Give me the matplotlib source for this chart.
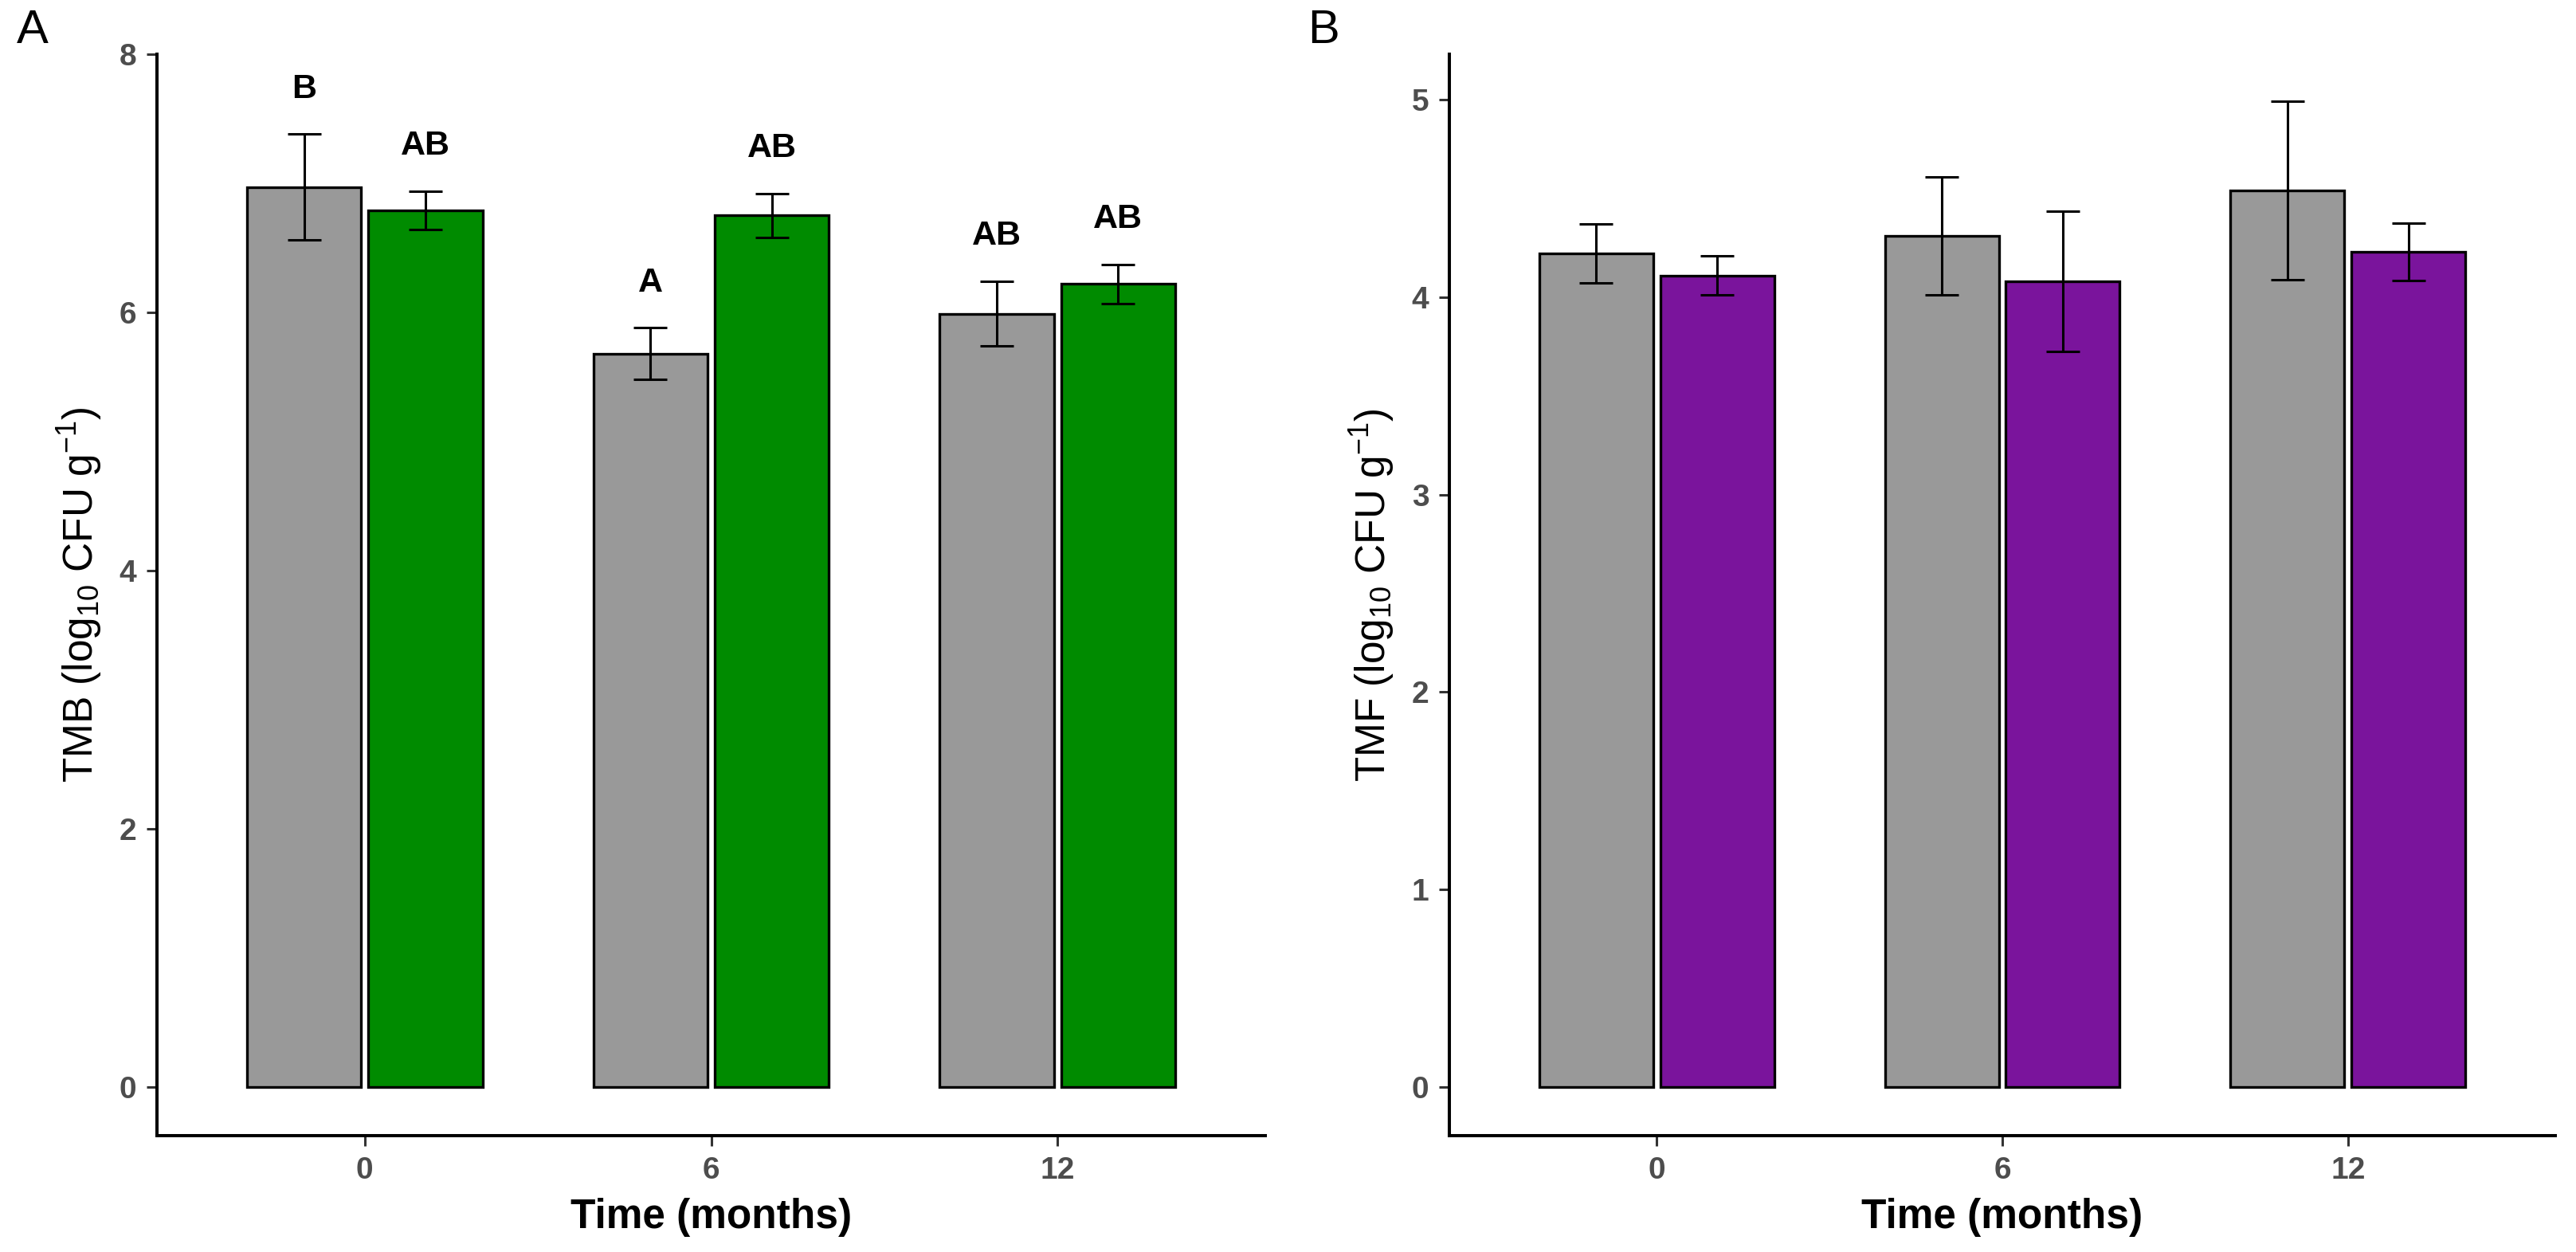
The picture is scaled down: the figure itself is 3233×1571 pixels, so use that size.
import matplotlib
matplotlib.use("Agg")
import matplotlib.pyplot as plt
import numpy as np

plt.rcParams['font.family'] = ['Liberation Sans', 'DejaVu Sans']
plt.rcParams['mathtext.fontset'] = 'custom'
plt.rcParams['mathtext.rm'] = 'Liberation Sans'
plt.rcParams['mathtext.it'] = 'Liberation Sans:italic'
plt.rcParams['mathtext.bf'] = 'Liberation Sans:bold'

# ---- data ----
months = ['0', '6', '12']

tmb_control = [6.97, 5.68, 5.99]
tmb_control_err = [0.41, 0.20, 0.25]
tmb_treated = [6.79, 6.75, 6.22]
tmb_treated_err = [0.15, 0.17, 0.15]
tmb_control_letters = ['B', 'A', 'AB']
tmb_treated_letters = ['AB', 'AB', 'AB']

tmf_control = [4.22, 4.31, 4.54]
tmf_control_err = [0.15, 0.30, 0.45]
tmf_treated = [4.11, 4.08, 4.23]
tmf_treated_err = [0.10, 0.355, 0.145]

# ---- style ----
GRAY = '#999999'
GREEN = '#008B00'
PURPLE = '#7A149C'
W, H = 3233, 1571
DPI = 100

fig = plt.figure(figsize=(W / DPI, H / DPI), dpi=DPI)

def px_axes(left, right, top, bottom):
    return fig.add_axes([left / W, 1 - bottom / H, (right - left) / W, (bottom - top) / H])

axA = px_axes(197, 1588, 68, 1425)
axB = px_axes(1819, 3207, 68, 1425)

x = np.arange(1, len(months) + 1)
bw = 0.33
off = 0.175

def draw(ax, c_vals, c_err, t_vals, t_err, tcolor, ylim, yticks, ylabel):
    ax.bar(x - off, c_vals, width=bw, color=GRAY, edgecolor='black', linewidth=2.4, zorder=2)
    ax.bar(x + off, t_vals, width=bw, color=tcolor, edgecolor='black', linewidth=2.4, zorder=2)
    ax.errorbar(x - off, c_vals, yerr=c_err, fmt='none', ecolor='black',
                elinewidth=2.2, capsize=15, capthick=2.2, zorder=3)
    ax.errorbar(x + off, t_vals, yerr=t_err, fmt='none', ecolor='black',
                elinewidth=2.2, capsize=15, capthick=2.2, zorder=3)
    ax.set_xlim(0.4, 3.6)
    ax.set_ylim(*ylim)
    ax.set_xticks(x)
    ax.set_xticklabels(months)
    ax.set_yticks(yticks)
    ax.set_yticklabels([str(t) for t in yticks])
    for s in ['top', 'right']:
        ax.spines[s].set_visible(False)
    for s in ['left', 'bottom']:
        ax.spines[s].set_linewidth(2.9)
        ax.spines[s].set_color('black')
    ax.tick_params(axis='both', length=9.5, width=2.2, color='#333333',
                   labelcolor='#4D4D4D', labelsize=28, pad=9)
    for lab in ax.get_xticklabels() + ax.get_yticklabels():
        lab.set_fontweight('bold')
    ax.set_xlabel('Time (months)', fontsize=37, fontweight='bold', va='center')
    ax.xaxis.set_label_coords(0.5, -102 / 1357)
    ax.set_ylabel(ylabel, fontsize=37, va='center')
    ax.yaxis.set_label_coords(-97 / 1390, 0.5)

draw(axA, tmb_control, tmb_control_err, tmb_treated, tmb_treated_err, GREEN,
     (-0.377, 8.0), [0, 2, 4, 6, 8], 'TMB (log$_{10}$ CFU g$^{-1}$)')
draw(axB, tmf_control, tmf_control_err, tmf_treated, tmf_treated_err, PURPLE,
     (-0.246, 5.23), [0, 1, 2, 3, 4, 5], 'TMF (log$_{10}$ CFU g$^{-1}$)')

# significance letters above error bars
for xi, v, e, lab in zip(x - off, tmb_control, tmb_control_err, tmb_control_letters):
    axA.text(xi, v + e + 0.35, lab, ha='center', va='center', fontsize=31, fontweight='bold')
for xi, v, e, lab in zip(x + off, tmb_treated, tmb_treated_err, tmb_treated_letters):
    axA.text(xi, v + e + 0.35, lab, ha='center', va='center', fontsize=31, fontweight='bold')

fig.text(41 / W, 1 - 38 / H, 'A', fontsize=43, ha='center', va='center')
fig.text(1661 / W, 1 - 39 / H, 'B', fontsize=43, ha='center', va='center')

fig.savefig('out.png', dpi=DPI)
